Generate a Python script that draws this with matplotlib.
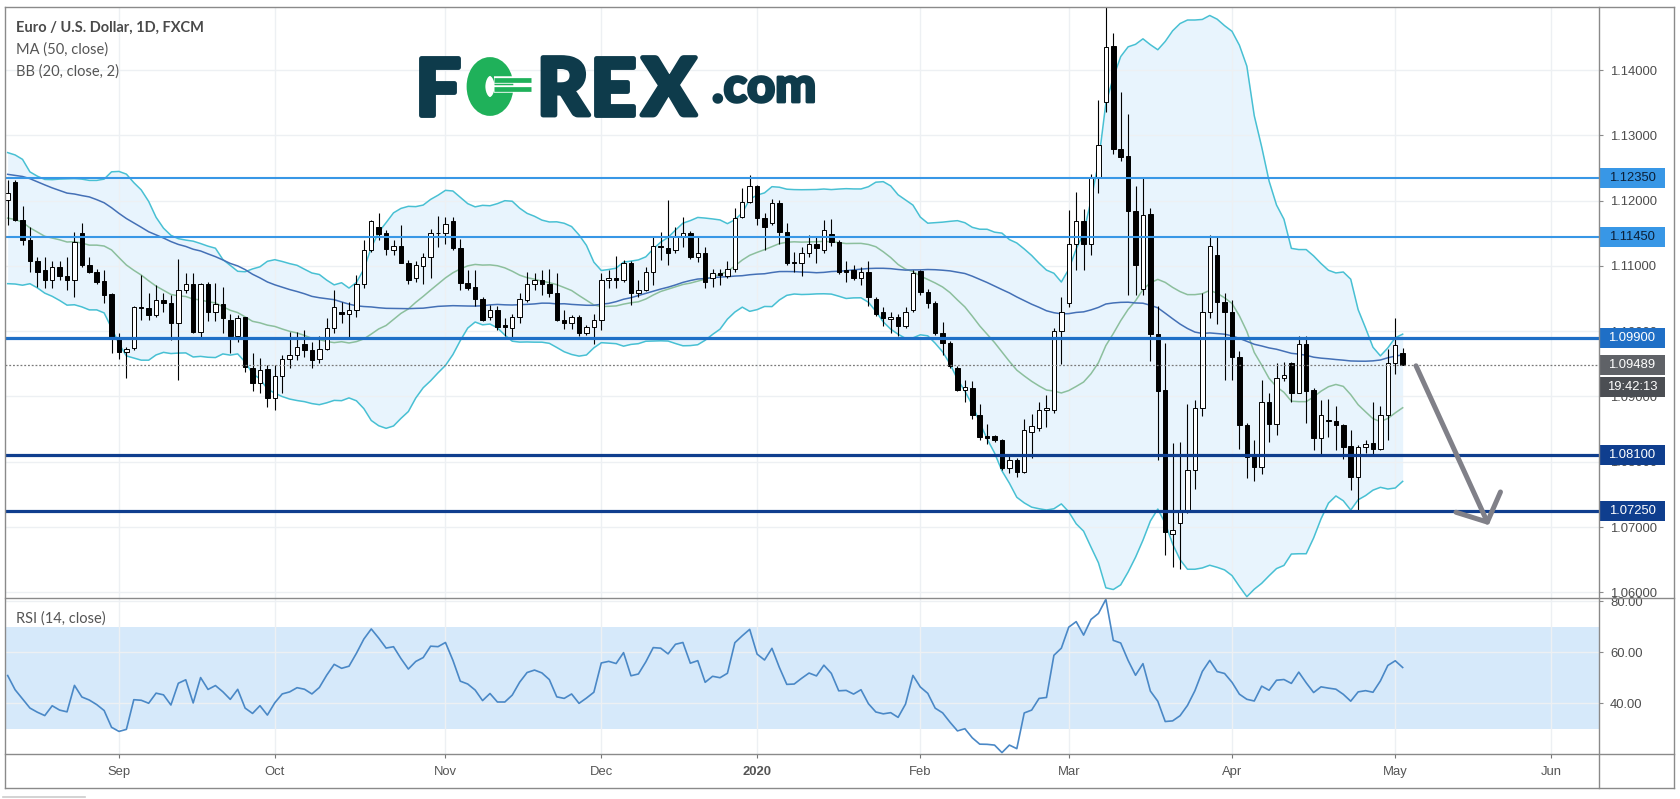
import numpy as np
import pandas as pd
import matplotlib
matplotlib.use("Agg")
import matplotlib.pyplot as plt
import matplotlib.transforms as mtransforms
import matplotlib.patheffects as pe
from matplotlib.lines import Line2D
from matplotlib.patches import Rectangle, FancyArrowPatch, Ellipse
from matplotlib.ticker import FormatStrFormatter

plt.rcParams["font.family"] = ["Liberation Sans", "DejaVu Sans"]

# ---------------- data: EUR/USD daily (FXCM) ----------------
first_day = "2019-08-12"
holidays = ["2019-12-25", "2020-01-01"]

# closes before the visible window (only used to warm up MA / BB / RSI)
warmup_closes = [
    1.1253, 1.1222, 1.1275, 1.1333, 1.1312, 1.1327, 1.1287, 1.1275, 1.1208, 1.1220,
    1.1193, 1.1286, 1.1294, 1.1369, 1.1400, 1.1367, 1.1366, 1.1373, 1.1370, 1.1287,
    1.1284, 1.1283, 1.1283, 1.1226, 1.1213, 1.1206, 1.1252, 1.1254, 1.1271, 1.1260,
    1.1211, 1.1226, 1.1276, 1.1220, 1.1209, 1.1151, 1.1139, 1.1146, 1.1127, 1.1142,
    1.1156, 1.1076, 1.1083, 1.1108, 1.1203, 1.1199, 1.1199, 1.1180, 1.1201,
]

opens = [
    1.1201, 1.1229, 1.1171, 1.1140, 1.1107, 1.1093, 1.1078, 1.1099, 1.1085, 1.1078,
    1.1151, 1.1101, 1.1090, 1.1077, 1.1057, 1.0991, 1.0968, 1.0974, 1.1037, 1.1035,
    1.1025, 1.1048, 1.1043, 1.1012, 1.1063, 1.1073, 1.0999, 1.1072, 1.1029, 1.1042,
    1.1017, 1.0993, 1.1021, 1.0944, 1.0920, 1.0942, 1.0898, 1.0932, 1.0958, 1.0964,
    1.0980, 1.0971, 1.0957, 1.0972, 1.1005, 1.1030, 1.1026, 1.1033, 1.1072, 1.1124,
    1.1160, 1.1150, 1.1125, 1.1131, 1.1104, 1.1081,
    1.1100, 1.1113, 1.1151, 1.1151, 1.1168, 1.1127, 1.1074, 1.1067, 1.1049, 1.1022,
    1.1033, 1.1009, 1.1005, 1.1021, 1.1048, 1.1072, 1.1078, 1.1073, 1.1058, 1.1017,
    1.1013, 1.1022, 1.0998, 1.1007, 1.1017, 1.1078, 1.1081, 1.1078, 1.1104, 1.1058,
    1.1063, 1.1091, 1.1130, 1.1127, 1.1124, 1.1145, 1.1150, 1.1114, 1.1120, 1.1081,
    1.1089, 1.1085, 1.1095, 1.1175, 1.1198, 1.1222, 1.1174, 1.1165, 1.1197, 1.1152,
    1.1106, 1.1105, 1.1120, 1.1134,
    1.1125, 1.1149, 1.1137, 1.1093, 1.1094, 1.1081, 1.1090, 1.1050, 1.1030, 1.1019,
    1.1022, 1.1008, 1.1032, 1.1092, 1.1060, 1.1043, 1.0998, 1.0982, 1.0943, 1.0910,
    1.0913, 1.0872, 1.0839, 1.0839, 1.0833, 1.0791, 1.0803, 1.0784, 1.0845, 1.0851,
    1.0879, 1.0879, 1.1001, 1.1043, 1.1133, 1.1169, 1.1133, 1.1236, 1.1351, 1.1437,
    1.1279, 1.1269, 1.1184, 1.1064, 1.1179, 1.0995, 1.0910, 1.0690, 1.0706, 1.0724,
    1.0787, 1.0882, 1.1030, 1.1117,
    1.1044, 1.1030, 1.0961, 1.0856, 1.0810, 1.0792, 1.0892, 1.0858, 1.0928, 1.0951,
    1.0906, 1.0981, 1.0910, 1.0837, 1.0864, 1.0863, 1.0856, 1.0824, 1.0777, 1.0822,
    1.0829, 1.0819, 1.0871, 1.0952, 1.0967,
]
highs = [
    1.1232, 1.1232, 1.1191, 1.1160, 1.1114, 1.1114, 1.1107, 1.1107, 1.1114, 1.1152,
    1.1165, 1.1114, 1.1096, 1.1094, 1.1059, 1.0997, 1.0976, 1.1038, 1.1086, 1.1058,
    1.1071, 1.1058, 1.1055, 1.1110, 1.1089, 1.1089, 1.1074, 1.1076, 1.1074, 1.1068,
    1.1027, 1.1025, 1.1022, 1.0966, 1.0959, 1.0948, 1.0948, 1.0964, 1.0999, 1.0999,
    1.1002, 1.0984, 1.0992, 1.1020, 1.1063, 1.1044, 1.1045, 1.1086, 1.1140, 1.1171,
    1.1181, 1.1155, 1.1140, 1.1163, 1.1109, 1.1107,
    1.1119, 1.1157, 1.1177, 1.1175, 1.1175, 1.1141, 1.1093, 1.1093, 1.1053, 1.1040,
    1.1038, 1.1020, 1.1027, 1.1058, 1.1090, 1.1089, 1.1094, 1.1096, 1.1089, 1.1032,
    1.1025, 1.1025, 1.1010, 1.1027, 1.1089, 1.1094, 1.1115, 1.1109, 1.1107, 1.1079,
    1.1099, 1.1145, 1.1152, 1.1201, 1.1160, 1.1175, 1.1154, 1.1145, 1.1129, 1.1096,
    1.1096, 1.1108, 1.1188, 1.1220, 1.1239, 1.1224, 1.1181, 1.1203, 1.1201, 1.1165,
    1.1122, 1.1129, 1.1147, 1.1145,
    1.1170, 1.1172, 1.1140, 1.1108, 1.1102, 1.1099, 1.1108, 1.1052, 1.1037, 1.1029,
    1.1027, 1.1037, 1.1093, 1.1093, 1.1064, 1.1046, 1.1014, 1.0985, 1.0947, 1.0926,
    1.0923, 1.0888, 1.0858, 1.0841, 1.0835, 1.0812, 1.0806, 1.0865, 1.0873, 1.0891,
    1.0903, 1.1005, 1.1052, 1.1185, 1.1213, 1.1187, 1.1240, 1.1354, 1.1498, 1.1457,
    1.1367, 1.1332, 1.1222, 1.1234, 1.1188, 1.1038, 1.0982, 1.0829, 1.0831, 1.0888,
    1.0894, 1.1058, 1.1148, 1.1146,
    1.1058, 1.1048, 1.0969, 1.0860, 1.0833, 1.0925, 1.0905, 1.0952, 1.0953, 1.0953,
    1.0992, 1.0992, 1.0913, 1.0895, 1.0896, 1.0885, 1.0858, 1.0849, 1.0826, 1.0833,
    1.0892, 1.0886, 1.0973, 1.1020, 1.0974,
]
lows = [
    1.1163, 1.1168, 1.1132, 1.1091, 1.1068, 1.1066, 1.1066, 1.1078, 1.1063, 1.1053,
    1.1099, 1.1089, 1.1073, 1.1043, 1.0966, 1.0958, 1.0928, 1.0971, 1.1017, 1.1017,
    1.1022, 1.1030, 1.0987, 1.0926, 1.1058, 1.0997, 1.0991, 1.1015, 1.1015, 1.0997,
    1.0966, 1.0984, 1.0938, 1.0908, 1.0905, 1.0884, 1.0879, 1.0905, 1.0943, 1.0956,
    1.0961, 1.0943, 1.0951, 1.0971, 1.0997, 1.1012, 1.0991, 1.1022, 1.1066, 1.1122,
    1.1140, 1.1117, 1.1117, 1.1104, 1.1073, 1.1076,
    1.1073, 1.1081, 1.1129, 1.1134, 1.1124, 1.1063, 1.1063, 1.1038, 1.1015, 1.1017,
    1.1002, 1.0992, 1.0988, 1.1013, 1.1045, 1.1063, 1.1056, 1.1053, 1.1015, 1.1003,
    1.1003, 1.0992, 1.0994, 1.0980, 1.1002, 1.1066, 1.1066, 1.1076, 1.1040, 1.1053,
    1.1061, 1.1071, 1.1109, 1.1101, 1.1119, 1.1129, 1.1110, 1.1106, 1.1066, 1.1068,
    1.1071, 1.1081, 1.1091, 1.1173, 1.1196, 1.1163, 1.1124, 1.1163, 1.1134, 1.1101,
    1.1091, 1.1084, 1.1114, 1.1104,
    1.1120, 1.1131, 1.1087, 1.1076, 1.1079, 1.1070, 1.1038, 1.1023, 1.1008, 1.0997,
    1.0993, 1.1005, 1.1030, 1.1056, 1.1035, 1.0994, 1.0964, 1.0944, 1.0909, 1.0891,
    1.0865, 1.0833, 1.0827, 1.0831, 1.0788, 1.0783, 1.0777, 1.0783, 1.0806, 1.0847,
    1.0854, 1.0875, 1.0950, 1.1037, 1.1093, 1.1093, 1.1117, 1.1211, 1.1336, 1.1272,
    1.1260, 1.1055, 1.1055, 1.1055, 1.0955, 1.0803, 1.0657, 1.0639, 1.0636, 1.0721,
    1.0759, 1.0870, 1.1020, 1.1011,
    1.0925, 1.0925, 1.0820, 1.0775, 1.0770, 1.0782, 1.0831, 1.0841, 1.0923, 1.0892,
    1.0905, 1.0859, 1.0818, 1.0810, 1.0838, 1.0818, 1.0804, 1.0757, 1.0726, 1.0813,
    1.0810, 1.0818, 1.0833, 1.0935, 1.0948,
]
closes = [
    1.1211, 1.1170, 1.1140, 1.1107, 1.1091, 1.1078, 1.1099, 1.1084, 1.1078, 1.1137,
    1.1101, 1.1091, 1.1076, 1.1056, 1.0988, 1.0968, 1.0972, 1.1037, 1.1035, 1.1025,
    1.1048, 1.1043, 1.1012, 1.1063, 1.1072, 1.0999, 1.1072, 1.1030, 1.1042, 1.1020,
    1.0992, 1.1020, 1.0945, 1.0920, 1.0941, 1.0898, 1.0932, 1.0958, 1.0964, 1.0976,
    1.0971, 1.0956, 1.0972, 1.1005, 1.1037, 1.1027, 1.1033, 1.1072, 1.1124, 1.1169,
    1.1149, 1.1126, 1.1131, 1.1104, 1.1078, 1.1101,
    1.1113, 1.1151, 1.1150, 1.1164, 1.1127, 1.1074, 1.1066, 1.1049, 1.1017, 1.1033,
    1.1007, 1.1007, 1.1021, 1.1049, 1.1072, 1.1078, 1.1072, 1.1058, 1.1017, 1.1013,
    1.1021, 1.0998, 1.1007, 1.1017, 1.1078, 1.1082, 1.1078, 1.1104, 1.1059, 1.1063,
    1.1091, 1.1130, 1.1129, 1.1119, 1.1145, 1.1150, 1.1114, 1.1120, 1.1076, 1.1089,
    1.1086, 1.1095, 1.1174, 1.1198, 1.1222, 1.1173, 1.1160, 1.1197, 1.1152, 1.1104,
    1.1105, 1.1120, 1.1134, 1.1127,
    1.1155, 1.1136, 1.1090, 1.1091, 1.1081, 1.1090, 1.1052, 1.1026, 1.1020, 1.1022,
    1.1008, 1.1030, 1.1089, 1.1060, 1.1043, 1.0998, 1.0982, 1.0947, 1.0910, 1.0914,
    1.0872, 1.0838, 1.0837, 1.0833, 1.0791, 1.0803, 1.0784, 1.0849, 1.0855, 1.0880,
    1.0882, 1.1001, 1.1029, 1.1134, 1.1169, 1.1133, 1.1236, 1.1285, 1.1436, 1.1279,
    1.1267, 1.1184, 1.1102, 1.1178, 1.0995, 1.0909, 1.0692, 1.0696, 1.0726, 1.0787,
    1.0882, 1.1030, 1.1131, 1.1045,
    1.1030, 1.0960, 1.0856, 1.0808, 1.0792, 1.0892, 1.0858, 1.0928, 1.0933, 1.0906,
    1.0981, 1.0909, 1.0837, 1.0872, 1.0863, 1.0856, 1.0823, 1.0777, 1.0822, 1.0828,
    1.0819, 1.0871, 1.0952, 1.0979, 1.09489,
]

levels = [1.1235, 1.1145, 1.0990, 1.0810, 1.0725]
level_labels = ["1.12350", "1.11450", "1.09900", "1.08100", "1.07250"]
level_colors = ["#3897e6", "#3897e6", "#1f6fc6", "#0f3e8e", "#0f3e8e"]
level_text_colors = ["#0c2038", "#0c2038", "white", "white", "white"]
level_widths = [1.5, 1.5, 2.3, 2.3, 2.3]

price_ticks = [1.06, 1.07, 1.08, 1.09, 1.10, 1.11, 1.12, 1.13, 1.14]
rsi_ticks = [40, 60, 80]
countdown = "19:42:13"

# arrow drawn on the chart (bar index, price)
arrow_start = (189.8, 1.0947)
arrow_end = (199.6, 1.0703)

# ---------------- indicators ----------------
allc = pd.Series(warmup_closes + closes)
k = len(warmup_closes)
ma50 = allc.rolling(50).mean().iloc[k:].to_numpy()
basis = allc.rolling(20).mean()
sd = allc.rolling(20).std(ddof=0)
bb_mid = basis.iloc[k:].to_numpy()
bb_up = (basis + 2 * sd).iloc[k:].to_numpy()
bb_lo = (basis - 2 * sd).iloc[k:].to_numpy()

d = allc.diff()
gain = d.clip(lower=0).iloc[1:]
loss = (-d.clip(upper=0)).iloc[1:]
ag = gain.ewm(alpha=1 / 14, adjust=False).mean()
al = loss.ewm(alpha=1 / 14, adjust=False).mean()
rsi = (100 - 100 / (1 + ag / al)).loc[k:].to_numpy()

o = np.array(opens); h = np.array(highs); l = np.array(lows); c = np.array(closes)
n = len(c)
x = np.arange(n)

# trading days -> month ticks
days = pd.bdate_range(first_day, "2020-07-10")
days = days[~days.isin(pd.to_datetime(holidays))]
month_pos, month_lab = [], []
for m in pd.period_range("2019-09", "2020-06", freq="M"):
    month_pos.append(int(np.argmax((days.year == m.year) & (days.month == m.month))))
    month_lab.append("2020" if m.month == 1 else m.strftime("%b"))

# ---------------- layout (pixels) ----------------
W, H = 1681, 799
L, RP, RA = 5, 1599, 1674
TOP, MID, BRSI, BOT = 7, 598, 754, 788
fx = lambda px: px / W
fy = lambda py: 1 - py / H

fig = plt.figure(figsize=(W / 100, H / 100), dpi=100)
ax = fig.add_axes([fx(L), fy(MID), (RP - L) / W, (MID - TOP) / H])
ax2 = fig.add_axes([fx(L), fy(BRSI), (RP - L) / W, (BRSI - MID) / H], sharex=ax)

ylo, yhi = 1.05914, 1.14965
ax.set_xlim(-0.36, 214.46)
ax.set_ylim(ylo, yhi)
ax2.set_ylim(20.0, 81.2)
px2price = (yhi - ylo) / (MID - TOP)

grid_c = "#edf0f3"
for a in (ax, ax2):
    for s in a.spines.values():
        s.set_visible(False)
    a.grid(True, color=grid_c, lw=1.0)
    a.yaxis.tick_right()
    a.tick_params(axis="y", length=3, width=0.8, color="#8a8a8a", pad=5,
                  labelsize=9.4, labelcolor="#4d4d4d")

ax2.set_xticks(month_pos)
ax2.set_xticklabels(month_lab)
ax.tick_params(axis="x", length=0, labelbottom=False)
ax2.tick_params(axis="x", length=3, width=0.8, color="#777777", pad=5.5,
                labelsize=9.4, labelcolor="#555555")
for t in ax2.get_xticklabels():
    if t.get_text() == "2020":
        t.set_fontweight("bold")

ax.set_yticks(price_ticks)
ax.yaxis.set_major_formatter(FormatStrFormatter("%.5f"))
ax2.set_yticks(rsi_ticks)
ax2.yaxis.set_major_formatter(FormatStrFormatter("%.2f"))

# bollinger bands + MA
ax.fill_between(x, bb_lo, bb_up, color="#2196f3", alpha=0.1, lw=0, zorder=1)
ax.plot(x, bb_up, color="#48c0d3", lw=1.1, zorder=2)
ax.plot(x, bb_lo, color="#48c0d3", lw=1.1, zorder=2)
ax.plot(x, bb_mid, color="#8cbf9d", lw=1.1, zorder=2)
ax.plot(x, ma50, color="#4470b6", lw=1.1, zorder=2)

# candles
up = c >= o
ax.vlines(x, l, h, color="black", lw=0.8, zorder=3)
ax.bar(x, np.maximum(np.abs(c - o), 0.00006), bottom=np.minimum(o, c), width=0.6,
       color=np.where(up, "white", "black"), edgecolor="black", linewidth=0.7, zorder=4)

# horizontal levels and their labels on the price scale
blend = mtransforms.blended_transform_factory(ax.transAxes, ax.transData)
bw = 66 / (RP - L)
bh = 20 * px2price
for lev, lab, col, tcol, lw in zip(levels, level_labels, level_colors, level_text_colors, level_widths):
    ax.axhline(lev, color=col, lw=lw, zorder=6)
    ax.add_patch(Rectangle((1.0, lev - bh / 2), bw, bh, transform=blend,
                           facecolor=col, edgecolor="none", clip_on=False, zorder=7))
    ax.text(1.0 + bw / 2, lev, lab, transform=blend, ha="center", va="center",
            fontsize=9.4, color=tcol, clip_on=False, zorder=8)

# last price line + label + countdown
last = c[-1]
ax.axhline(last, color="#7a7a7a", lw=0.9, ls=(0, (1.5, 1.5)), zorder=6)
ax.add_patch(Rectangle((1.0, last - bh / 2), bw, bh, transform=blend,
                       facecolor="#5f6267", edgecolor="none", clip_on=False, zorder=7))
ax.text(1.0 + bw / 2, last, f"{last:.5f}", transform=blend, ha="center", va="center",
        fontsize=9.4, color="white", clip_on=False, zorder=8)
cd_y = last - 22 * px2price
ax.add_patch(Rectangle((1.0, cd_y - bh / 2), bw, bh, transform=blend,
                       facecolor="#4b4e53", edgecolor="none", clip_on=False, zorder=7))
ax.text(1.0 + bw / 2, cd_y, countdown, transform=blend, ha="center", va="center",
        fontsize=9.4, color="white", clip_on=False, zorder=8)

# arrow
arr = FancyArrowPatch(arrow_start, arrow_end, arrowstyle="->,head_length=15.8,head_width=17.6",
                      mutation_scale=1, color="#808088", lw=3.6, shrinkA=0, shrinkB=0,
                      zorder=9, clip_on=False)
ax.add_patch(arr)

# RSI
ax2.axhspan(30, 70, color="#2a8ee8", alpha=0.19, lw=0, zorder=0.5)
ax2.plot(x, rsi, color="#4a88c6", lw=1.2, zorder=3)

# frame
fl = dict(color="#8a8a8a", lw=1.0, transform=fig.transFigure)
for xs, ys in [((L, RA), (TOP, TOP)), ((L, RA), (BOT, BOT)), ((L, L), (TOP, BOT)),
               ((RA, RA), (TOP, BOT)), ((RP, RP), (TOP, BOT)),
               ((L, RA), (MID, MID)), ((L, RA), (BRSI, BRSI))]:
    fig.add_artist(Line2D([fx(v) for v in xs], [fy(v) for v in ys], **fl))
fig.add_artist(Line2D([fx(3), fx(85)], [fy(797), fy(797)], color="#cccccc", lw=1.2,
                      transform=fig.transFigure))

# legend texts
fig.text(fx(16), fy(28), "Euro / U.S. Dollar, 1D, FXCM", family="Lato", weight="bold",
         fontsize=10.5, color="#4a4a4a", va="center")
fig.text(fx(16), fy(50), "MA (50, close)", family="Lato", fontsize=10.5, color="#555555", va="center")
fig.text(fx(16), fy(72), "BB (20, close, 2)", family="Lato", fontsize=10.5, color="#555555", va="center")
fig.text(fx(16), fy(619), "RSI (14, close)", family="Lato", fontsize=10.5, color="#555555", va="center")

# logo
navy, green = "#0e3b4b", "#1fb15a"
heavy = [pe.withStroke(linewidth=3.5, foreground=navy)]
logo = dict(family="Lato", weight="black", fontsize=57, va="baseline", ha="left",
            color=navy, path_effects=heavy)
fig.text(fx(415), fy(115), "F", **logo)
fig.text(fx(537), fy(115), "R", **logo)
fig.text(fx(590), fy(115), "E", **logo)
fig.text(fx(642), fy(115), "X", **logo)
fig.text(fx(712), fy(102), ".com", color=navy, family="Lato", weight="black",
         fontsize=35, va="baseline", ha="left",
         path_effects=[pe.withStroke(linewidth=2, foreground=navy)])
# green "0" with the currency bars
fig.add_artist(Ellipse((fx(490), fy(86.5)), 28 / W, 40 / H, transform=fig.transFigure,
                       facecolor="none", edgecolor=green, lw=13.5, zorder=9))
for yy in (80, 88.5):
    fig.add_artist(Line2D([fx(494), fx(531)], [fy(yy), fy(yy)], color=green, lw=3.4,
                          solid_capstyle="butt", transform=fig.transFigure, zorder=10,
                          path_effects=[pe.Stroke(linewidth=5.4, foreground="white"), pe.Normal()]))

fig.savefig("out.png", dpi=100)
